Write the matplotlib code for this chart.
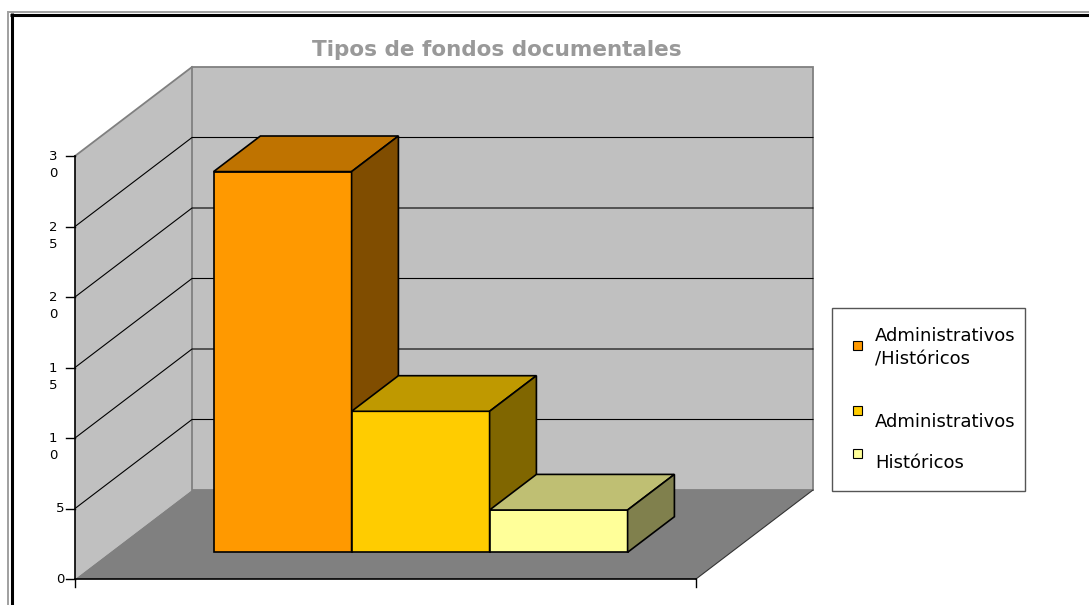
import numpy as np
import matplotlib.pyplot as plt
from matplotlib.patches import Polygon, Rectangle
from matplotlib.colors import to_rgb

series = ['Administrativos\n/Históricos', 'Administrativos', 'Históricos']
values = [27, 10, 3]
colors = ['#FF9900', '#FFCC00', '#FFFF99']
y_ticks = [0, 5, 10, 15, 20, 25, 30]
y_labels = ['0', '5', '1\n0', '1\n5', '2\n0', '2\n5', '3\n0']
title = 'Tipos de fondos documentales'

W, H = 1089, 605
fig = plt.figure(figsize=(W / 100, H / 100), dpi=100)
ax = fig.add_axes([0, 0, 1, 1])
ax.axis('off')

# x in bar widths, y in value units; origin at the front-left floor corner
ox, oy = 75, 579
sx = 138.0
sy = 423 / 30
ax.set_xlim(-ox / sx, (W - ox) / sx)
ax.set_ylim(-(H - oy) / sy, oy / sy)

DX, DY = 117 / sx, 89 / sy   # oblique offset for full floor depth
floor_w = 4.5
ymax = 30
gap = 0.75
d0, d1 = 0.3, 0.7            # bar depth range


def P(x, v, d):
    return (x + d * DX, v + d * DY)


def px(xp, yp):
    return ((xp - ox) / sx, (oy - yp) / sy)


def shade(c, f):
    return tuple(np.array(to_rgb(c)) * f)


def poly(pts, fc, ec='none', lw=0, z=1):
    ax.add_patch(Polygon(pts, closed=True, fc=fc, ec=ec, lw=lw, zorder=z,
                         joinstyle='miter'))


# walls and floor
poly([P(0, 0, 0), P(0, ymax, 0), P(0, ymax, 1), P(0, 0, 1)], '#C0C0C0')
poly([P(0, 0, 1), P(0, ymax, 1), P(floor_w, ymax, 1), P(floor_w, 0, 1)],
     '#C0C0C0', '#808080', 1.3)
poly([P(0, 0, 0), P(floor_w, 0, 0), P(floor_w, 0, 1), P(0, 0, 1)], '#808080')

# gridlines on the side and back walls
for v in y_ticks[1:-1]:
    pts = np.array([P(0, v, 0), P(0, v, 1), P(floor_w, v, 1)])
    ax.plot(pts[:, 0], pts[:, 1], color='black', lw=0.8, zorder=2)
pts = np.array([P(0, ymax, 0), P(0, ymax, 1)])
ax.plot(pts[:, 0], pts[:, 1], color='#808080', lw=1.3, zorder=2)
pts = np.array([P(floor_w, 0, 0), P(floor_w, 0, 1)])
ax.plot(pts[:, 0], pts[:, 1], color='#333333', lw=0.8, zorder=2)

# axes lines and ticks
ax.plot([0, floor_w], [0, 0], color='black', lw=1.2, zorder=3)
ax.plot([0, 0], [0, ymax], color='black', lw=1.2, zorder=3)
for v, lab in zip(y_ticks, y_labels):
    ax.plot([-9 / sx, 0], [v, v], color='black', lw=1, zorder=3)
    xl = px(53 if '\n' in lab else 60, 0)[0]
    ax.text(xl, v + 6 / sy, lab, ha='center', va='top', fontsize=9.5,
            linespacing=1.4, color='black')
for xt in [0, floor_w]:
    ax.plot([xt, xt], [0, -8 / sy], color='black', lw=1, zorder=3)

# bars, left to right so each covers the side of the previous one
for i, (val, c) in enumerate(zip(values, colors)):
    xl, xr = gap + i, gap + i + 1
    z = 5 + i
    poly([P(xl, 0, d0), P(xr, 0, d0), P(xr, val, d0), P(xl, val, d0)],
         c, 'black', 1.2, z)
    poly([P(xl, val, d0), P(xr, val, d0), P(xr, val, d1), P(xl, val, d1)],
         shade(c, 0.75), 'black', 1.2, z)
    poly([P(xr, 0, d0), P(xr, 0, d1), P(xr, val, d1), P(xr, val, d0)],
         shade(c, 0.5), 'black', 1.2, z)

# title
tx, ty = px(497, 56)
ax.text(tx, ty, title, ha='center', va='baseline', fontsize=15.5,
        fontweight='bold', color='#999999')

# legend
lx, ly = px(832, 491)
ax.add_patch(Rectangle((lx, ly), 193 / sx, 183 / sy, fc='white',
                       ec='#555555', lw=1, zorder=10))
mark_y = [345, 410, 453]
text_y = [365, 427, 468]   # baseline of each label's last line
for lab, c, my, tyl in zip(series, colors, mark_y, text_y):
    mx, myd = px(853, my + 4.5)
    ax.add_patch(Rectangle((mx, myd), 9 / sx, 9 / sy, fc=c, ec='black',
                           lw=0.8, zorder=11))
    tx, ty = px(875, tyl)
    ax.text(tx, ty, lab, ha='left', va='baseline', fontsize=13,
            linespacing=1.44, color='black', zorder=11)

# outer frame
for xs, ys, c, lw in [([8.3, 8.3], [11, H], '#A0A0A0', 1.4),
                      ([11.5, 11.5], [13, H], 'black', 2.2),
                      ([8, W], [12, 12], '#A0A0A0', 1.4),
                      ([10, W], [14.5, 14.5], 'black', 2.2)]:
    a = px(xs[0], ys[0])
    b = px(xs[1], ys[1])
    ax.plot([a[0], b[0]], [a[1], b[1]], color=c, lw=lw, zorder=12,
            solid_capstyle='butt')

fig.savefig('out.png', dpi=100)
